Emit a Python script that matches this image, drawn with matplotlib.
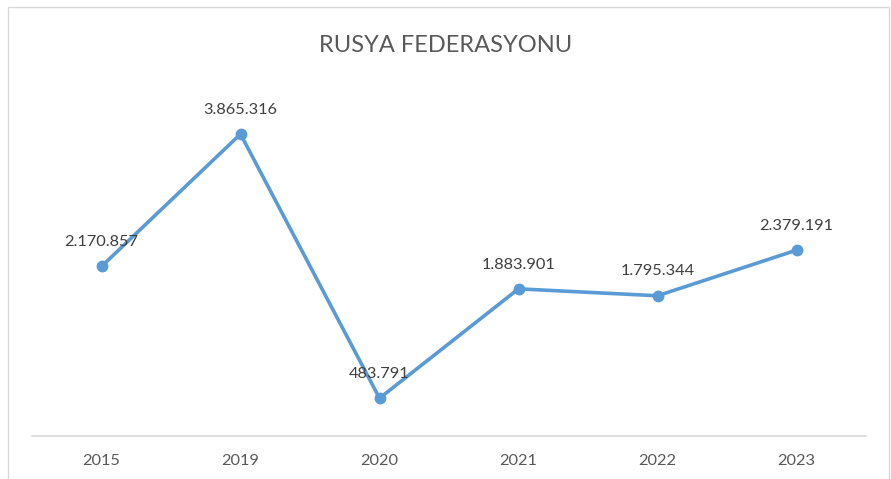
import matplotlib.pyplot as plt
from matplotlib.patches import Rectangle

# Data
years = ['2015', '2019', '2020', '2021', '2022', '2023']
values = [2170857, 3865316, 483791, 1883901, 1795344, 2379191]
value_labels = ['2.170.857', '3.865.316', '483.791', '1.883.901', '1.795.344', '2.379.191']

LINE_COLOR = '#5B9BD5'
W, H = 891, 479

plt.rcParams['font.family'] = ['Lato', 'DejaVu Sans']

fig = plt.figure(figsize=(W / 100, H / 100), dpi=100)
ax = fig.add_axes([32 / W, 1 - 436 / H, 834 / W, (436 - 84.5) / H])

x = list(range(len(years)))
ax.plot(x, values, color=LINE_COLOR, linewidth=2.6, marker='o', markersize=7.5,
        solid_capstyle='round', zorder=3)

for xi, v, lab in zip(x, values, value_labels):
    ax.annotate(lab, (xi, v), xytext=(0, 17.5), textcoords='offset points',
                ha='center', va='center', fontsize=11.8, color='#404040')

ax.set_xlim(-0.5, len(years) - 0.5)
ax.set_ylim(0, 4500000)
ax.set_xticks(x)
ax.set_xticklabels(years, fontsize=11.8, color='#595959')
ax.tick_params(axis='x', length=0, pad=13)
ax.set_yticks([])
for side in ['top', 'right', 'left']:
    ax.spines[side].set_visible(False)
ax.spines['bottom'].set_color('#D9D9D9')
ax.spines['bottom'].set_linewidth(1.2)

fig.text(0.5, 1 - 45 / H, 'RUSYA FEDERASYONU', ha='center', va='center',
         fontsize=17, color='#595959')

# chart border
fig.patches.append(Rectangle((8 / W, -0.05), (889 - 8) / W, 1.05 - 7 / H,
                             transform=fig.transFigure, fill=False,
                             edgecolor='#D9D9D9', linewidth=1))

fig.savefig('out.png', dpi=100)
